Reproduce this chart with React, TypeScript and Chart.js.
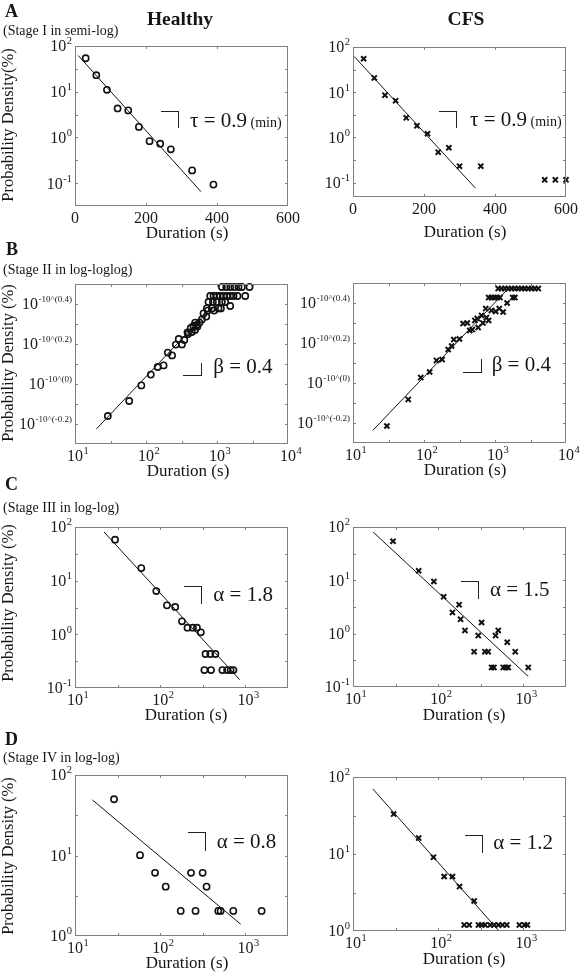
import React, { useEffect, useRef } from "react";
import { Chart, registerables } from "chart.js";
Chart.register(...registerables);

const W = 581;
const H = 975;
const FONT = '"Liberation Serif", "Times New Roman", serif';

// ---------- Panel A: Stage I (semi-log) ----------
const aHealthyX = [30, 60, 90, 120, 150, 180, 210, 240, 270, 330, 390];
const aHealthyY = [54, 23, 11, 4.3, 3.9, 1.7, 0.83, 0.73, 0.55, 0.19, 0.093];
const aHealthyFitX = [9, 355];
const aHealthyFitY = [62, 0.065];
const aCfsX = [30, 60, 90, 120, 150, 180, 210, 240, 270, 300, 360, 540, 570, 600];
const aCfsY = [55, 20.7, 8.6, 6.5, 2.7, 1.8, 1.2, 0.47, 0.59, 0.23, 0.23, 0.115, 0.115, 0.115];
const aCfsFitX = [3, 345];
const aCfsFitY = [62, 0.075];

// ---------- Panel B: Stage II (log-loglog) ----------
const bHealthyX = [29, 58, 86, 117, 146, 177, 203, 233, 263, 289, 321, 347, 384, 391, 428, 442, 466, 490, 493, 520, 530, 567, 612, 646, 707, 719, 740, 759, 802, 847, 875, 893, 912, 995, 995, 1050, 1109, 1135, 1172, 1172, 1236, 1306, 1349, 1380, 1535, 1535, 1538, 1710, 1750, 1946, 2009, 2244, 2500, 2871];
const bHealthyY = [-0.16, -0.085, -0.007, 0.047, 0.085, 0.093, 0.157, 0.143, 0.197, 0.225, 0.198, 0.22, 0.2585, 0.25, 0.28, 0.26, 0.29, 0.27, 0.307, 0.295, 0.287, 0.307, 0.323, 0.353, 0.337, 0.378, 0.367, 0.41, 0.44, 0.378, 0.41, 0.44, 0.367, 0.44, 0.41, 0.378, 0.44, 0.378, 0.41, 0.485, 0.44, 0.41, 0.485, 0.44, 0.44, 0.39, 0.485, 0.44, 0.485, 0.44, 0.485, 0.485, 0.44, 0.485];
const bHealthyFitX = [20, 850];
const bHealthyFitY = [-0.225, 0.385];
const bCfsX = [30, 60, 90, 120, 150, 180, 219, 245, 263, 316, 355, 407, 441, 479, 520, 562, 579, 646, 676, 741, 759, 813, 891, 1023, 1148, 1303, 1479, 813, 891, 977, 1072, 1175, 1778, 1905, 1109, 1236, 1377, 1535, 1710, 1905, 2123, 2366, 2636, 2938, 3273, 3648, 4074];
const bCfsY = [-0.215, -0.082, 0.027, 0.055, 0.113, 0.117, 0.167, 0.185, 0.217, 0.22, 0.297, 0.3, 0.263, 0.267, 0.313, 0.322, 0.277, 0.338, 0.3, 0.372, 0.327, 0.313, 0.363, 0.358, 0.372, 0.355, 0.4, 0.427, 0.427, 0.427, 0.427, 0.427, 0.427, 0.427, 0.472, 0.472, 0.472, 0.472, 0.472, 0.472, 0.472, 0.472, 0.472, 0.472, 0.472, 0.472, 0.472];
const bCfsFitX = [19, 1455];
const bCfsFitY = [-0.237, 0.463];

// ---------- Panel C: Stage III (log-log) ----------
const cHealthyX = [29.5, 60, 90, 120, 150, 180, 209, 242, 270, 300, 340, 387, 444, 330, 395, 537, 610, 671, 724];
const cHealthyY = [58, 17.2, 6.4, 3.47, 3.24, 1.75, 1.33, 1.33, 1.33, 1.09, 0.43, 0.43, 0.43, 0.216, 0.216, 0.216, 0.216, 0.216, 0.216];
const cHealthyFitX = [21.9, 857];
const cHealthyFitY = [80.7, 0.143];
const cCfsX = [29.5, 59, 89, 116, 147, 176, 183, 206, 264, 295, 323, 353, 386, 423, 451, 471, 507, 580, 623, 664, 646, 802, 1140];
const cCfsY = [54, 15.1, 9.5, 4.9, 2.5, 3.5, 1.86, 1.15, 0.46, 0.92, 1.62, 0.46, 0.46, 0.233, 0.233, 0.92, 1.15, 0.233, 0.233, 0.233, 0.69, 0.46, 0.233];
const cCfsFitX = [17.2, 1140];
const cCfsFitY = [80.7, 0.158];

// ---------- Panel D: Stage IV (log-log) ----------
const dHealthyX = [28.7, 58, 87, 116, 174, 230, 260, 315, 350, 480, 512, 721, 1550];
const dHealthyY = [50, 10.1, 6.1, 4.1, 2.05, 6.1, 2.05, 6.1, 4.1, 2.05, 2.05, 2.05, 2.05];
const dHealthyFitX = [16, 881];
const dHealthyFitY = [49, 1.4];
const dCfsX = [30, 59, 88, 117.5, 147, 178, 264, 202, 231, 297, 325, 355, 407, 453, 509, 567, 638, 897, 1028, 1114];
const dCfsY = [33, 16.1, 9.1, 5.1, 5.1, 3.77, 2.45, 1.2, 1.2, 1.2, 1.2, 1.2, 1.2, 1.2, 1.2, 1.2, 1.2, 1.2, 1.2, 1.2];
const dCfsFitX = [17.1, 509];
const dCfsFitY = [69.8, 1.02];

// ---------- Tick values and labels ----------
const aXTickValues = [0, 200, 400, 600];
const aXTickLabels = ["0", "200", "400", "600"];
const aYExps = [-1, 0, 1, 2];
const aYMinorExps = [-0.5, 0.5, 1.5];
const bXExps = [1, 2, 3, 4];
const bXMinorExps = [1.5, 2.5, 3.5];
const bYTickValues = [-0.2, 0, 0.2, 0.4];
const bYTickExps = ["-10^(-0.2)", "-10^(0)", "-10^(0.2)", "-10^(0.4)"];
const bYMinorValues = [-0.1, 0.1, 0.3];
const cdXExps = [1, 2, 3];
const cdXMinorExps = [1.5, 2.5];
const cYExps = [-1, 0, 1, 2];
const cYMinorExps = [-0.5, 0.5, 1.5];
const dYExps = [0, 1, 2];
const dYMinorExps = [0.5, 1.5];

type Tick = { v: number; base?: string; exp?: string };
type Pt = { x: number; y: number };

const zip = (xs: number[], ys: number[]): Pt[] => xs.map((x, i) => ({ x, y: ys[i] }));
const logTicks = (exps: number[], minor: number[]): Tick[] => [
  ...exps.map((e) => ({ v: Math.pow(10, e), base: "10", exp: String(e) })),
  ...minor.map((e) => ({ v: Math.pow(10, e) })),
];

type PanelCfg = {
  id: string;
  box: [number, number, number, number];
  xType: "linear" | "logarithmic";
  xMin: number;
  xMax: number;
  yType: "linear" | "logarithmic";
  yMin: number;
  yMax: number;
  points: Pt[];
  fit: Pt[];
  marker: "circle" | "crossRot";
  xTicks: Tick[];
  yTicks: Tick[];
  yExpSize?: number;
};

const aXTicks: Tick[] = aXTickValues.map((v, i) => ({ v, base: aXTickLabels[i] }));
const bYTicks: Tick[] = [
  ...bYTickValues.map((v, i) => ({ v, base: "10", exp: bYTickExps[i] })),
  ...bYMinorValues.map((v) => ({ v })),
];

const panels: PanelCfg[] = [
  {
    id: "aH", box: [75, 46, 288, 206], xType: "linear", xMin: 0, xMax: 600,
    yType: "logarithmic", yMin: Math.pow(10, -1.5), yMax: 100,
    points: zip(aHealthyX, aHealthyY), fit: zip(aHealthyFitX, aHealthyFitY), marker: "circle",
    xTicks: aXTicks, yTicks: logTicks(aYExps, aYMinorExps),
  },
  {
    id: "aC", box: [353, 47, 566, 197], xType: "linear", xMin: 0, xMax: 600,
    yType: "logarithmic", yMin: Math.pow(10, -1.32), yMax: 100,
    points: zip(aCfsX, aCfsY), fit: zip(aCfsFitX, aCfsFitY), marker: "crossRot",
    xTicks: aXTicks, yTicks: logTicks(aYExps, aYMinorExps),
  },
  {
    id: "bH", box: [75, 284, 288, 444], xType: "logarithmic", xMin: 10, xMax: 10000,
    yType: "linear", yMin: -0.3, yMax: 0.5,
    points: zip(bHealthyX, bHealthyY), fit: zip(bHealthyFitX, bHealthyFitY), marker: "circle",
    xTicks: logTicks(bXExps, bXMinorExps), yTicks: bYTicks, yExpSize: 9,
  },
  {
    id: "bC", box: [353, 283, 566, 443], xType: "logarithmic", xMin: 10, xMax: 10000,
    yType: "linear", yMin: -0.3, yMax: 0.5,
    points: zip(bCfsX, bCfsY), fit: zip(bCfsFitX, bCfsFitY), marker: "crossRot",
    xTicks: logTicks(bXExps, bXMinorExps), yTicks: bYTicks, yExpSize: 9,
  },
  {
    id: "cH", box: [75, 527, 288, 688], xType: "logarithmic", xMin: 10, xMax: Math.pow(10, 3.5),
    yType: "logarithmic", yMin: 0.1, yMax: 100,
    points: zip(cHealthyX, cHealthyY), fit: zip(cHealthyFitX, cHealthyFitY), marker: "circle",
    xTicks: logTicks(cdXExps, cdXMinorExps), yTicks: logTicks(cYExps, cYMinorExps),
  },
  {
    id: "cC", box: [353, 527, 566, 687], xType: "logarithmic", xMin: 10, xMax: Math.pow(10, 3.5),
    yType: "logarithmic", yMin: 0.1, yMax: 100,
    points: zip(cCfsX, cCfsY), fit: zip(cCfsFitX, cCfsFitY), marker: "crossRot",
    xTicks: logTicks(cdXExps, cdXMinorExps), yTicks: logTicks(cYExps, cYMinorExps),
  },
  {
    id: "dH", box: [75, 775, 288, 936], xType: "logarithmic", xMin: 10, xMax: Math.pow(10, 3.5),
    yType: "logarithmic", yMin: 1, yMax: 100,
    points: zip(dHealthyX, dHealthyY), fit: zip(dHealthyFitX, dHealthyFitY), marker: "circle",
    xTicks: logTicks(cdXExps, cdXMinorExps), yTicks: logTicks(dYExps, dYMinorExps),
  },
  {
    id: "dC", box: [353, 777, 566, 931], xType: "logarithmic", xMin: 10, xMax: Math.pow(10, 3.5),
    yType: "logarithmic", yMin: 1, yMax: 100,
    points: zip(dCfsX, dCfsY), fit: zip(dCfsFitX, dCfsFitY), marker: "crossRot",
    xTicks: logTicks(cdXExps, cdXMinorExps), yTicks: logTicks(dYExps, dYMinorExps),
  },
];

const TICK_FS = 16;
const EXP_FS = 10.5;

function makeFramePlugin(p: PanelCfg) {
  return {
    id: "frame_" + p.id,
    afterDraw(chart: any) {
      const { ctx, chartArea: a } = chart;
      const xs = chart.scales.x;
      const ys = chart.scales.y;
      ctx.save();
      ctx.strokeStyle = "#808080";
      ctx.lineWidth = 1;
      ctx.strokeRect(a.left + 0.5, a.top + 0.5, a.right - a.left - 1, a.bottom - a.top - 1);
      const TL = 3;
      ctx.beginPath();
      for (const t of p.xTicks) {
        const px = Math.round(xs.getPixelForValue(t.v)) + 0.5;
        if (px <= a.left + 1 || px >= a.right - 1) continue;
        ctx.moveTo(px, a.bottom);
        ctx.lineTo(px, a.bottom - TL);
        ctx.moveTo(px, a.top);
        ctx.lineTo(px, a.top + TL);
      }
      for (const t of p.yTicks) {
        const py = Math.round(ys.getPixelForValue(t.v)) + 0.5;
        if (py <= a.top + 1 || py >= a.bottom - 1) continue;
        ctx.moveTo(a.left, py);
        ctx.lineTo(a.left + TL, py);
        ctx.moveTo(a.right, py);
        ctx.lineTo(a.right - TL, py);
      }
      ctx.stroke();

      ctx.fillStyle = "#1a1a1a";
      ctx.textBaseline = "alphabetic";
      const expFs = p.yExpSize || EXP_FS;
      for (const t of p.xTicks) {
        if (!t.base) continue;
        const px = xs.getPixelForValue(t.v);
        const by = a.bottom + 17;
        ctx.font = `${TICK_FS}px ${FONT}`;
        const bw = ctx.measureText(t.base).width;
        ctx.textAlign = "left";
        ctx.fillText(t.base, px - bw / 2, by);
        if (t.exp) {
          ctx.font = `${EXP_FS}px ${FONT}`;
          ctx.fillText(t.exp, px + bw / 2 + 0.5, by - 7);
        }
      }
      for (const t of p.yTicks) {
        if (!t.base) continue;
        const py = ys.getPixelForValue(t.v);
        const by = py + 0.34 * TICK_FS;
        ctx.font = `${TICK_FS}px ${FONT}`;
        const bw = ctx.measureText(t.base).width;
        let ew = 0;
        if (t.exp) {
          ctx.font = `${expFs}px ${FONT}`;
          ew = ctx.measureText(t.exp).width + 0.5;
        }
        const start = a.left - 3 - bw - ew;
        ctx.textAlign = "left";
        ctx.font = `${TICK_FS}px ${FONT}`;
        ctx.fillText(t.base, start, by);
        if (t.exp) {
          ctx.font = `${expFs}px ${FONT}`;
          ctx.fillText(t.exp, start + bw + 0.5, by - 7);
        }
      }
      ctx.restore();
    },
  };
}

function Plot({ p }: { p: PanelCfg }) {
  const ref = useRef<HTMLCanvasElement>(null);
  useEffect(() => {
    const [l, t, r, b] = p.box;
    const isCross = p.marker === "crossRot";
    const chart = new Chart(ref.current as HTMLCanvasElement, {
      type: "scatter",
      data: {
        datasets: [
          {
            data: p.points,
            pointStyle: p.marker,
            pointRadius: isCross ? 3.6 : 3.1,
            pointBorderWidth: isCross ? 2 : 1.6,
            borderColor: "#111",
            pointBorderColor: "#111",
            backgroundColor: "rgba(0,0,0,0)",
            pointBackgroundColor: "rgba(0,0,0,0)",
            showLine: false,
            clip: false,
          } as any,
          {
            data: p.fit,
            showLine: true,
            pointRadius: 0,
            borderColor: "#111",
            borderWidth: 1,
            fill: false,
            clip: false,
          } as any,
        ],
      },
      options: {
        responsive: false,
        animation: false,
        events: [],
        layout: { padding: { left: l, top: t, right: W - r, bottom: H - b } },
        scales: {
          x: { type: p.xType, min: p.xMin, max: p.xMax, display: false },
          y: { type: p.yType, min: p.yMin, max: p.yMax, display: false },
        },
        plugins: { legend: { display: false }, tooltip: { enabled: false } },
      } as any,
      plugins: [makeFramePlugin(p)],
    });
    return () => chart.destroy();
  }, []);
  return (
    <canvas
      ref={ref}
      width={W}
      height={H}
      style={{ position: "absolute", left: 0, top: 0, width: W, height: H }}
    />
  );
}

function Txt(props: { x: number; y: number; size: number; bold?: boolean; center?: boolean; children: any }) {
  const { x, y, size, bold, center, children } = props;
  return (
    <div
      style={{
        position: "absolute",
        left: x,
        top: y - 0.8375 * size,
        fontSize: size,
        lineHeight: 1,
        fontWeight: bold ? 700 : 400,
        whiteSpace: "nowrap",
        transform: center ? "translateX(-50%)" : undefined,
      }}
    >
      {children}
    </div>
  );
}

function VTxt(props: { x: number; y: number; size: number; children: any }) {
  return (
    <div
      style={{
        position: "absolute",
        left: props.x,
        top: props.y,
        fontSize: props.size,
        lineHeight: 1,
        whiteSpace: "nowrap",
        transform: "translate(-50%,-50%) rotate(-90deg)",
      }}
    >
      {props.children}
    </div>
  );
}

function Corner(props: { x1: number; y1: number; x2: number; y2: number; kind: "tr" | "br" }) {
  const { x1, y1, x2, y2, kind } = props;
  const line = "1.5px solid #222";
  return (
    <div
      style={{
        position: "absolute",
        left: x1,
        top: y1,
        width: x2 - x1,
        height: y2 - y1,
        boxSizing: "border-box",
        borderRight: line,
        borderTop: kind === "tr" ? line : undefined,
        borderBottom: kind === "br" ? line : undefined,
      }}
    />
  );
}

export default function App() {
  return (
    <div
      style={{
        position: "absolute",
        left: 0,
        top: 0,
        width: W,
        height: H,
        background: "#fff",
        fontFamily: FONT,
        color: "#151515",
        overflow: "hidden",
      }}
    >
      {panels.map((p) => (
        <Plot key={p.id} p={p} />
      ))}

      <Txt x={5} y={17} size={18} bold>A</Txt>
      <Txt x={6} y={255} size={18} bold>B</Txt>
      <Txt x={5} y={490} size={18} bold>C</Txt>
      <Txt x={5} y={745} size={18} bold>D</Txt>

      <Txt x={180} y={25} size={19.5} bold center>Healthy</Txt>
      <Txt x={466} y={25} size={19.5} bold center>CFS</Txt>

      <Txt x={3} y={35.8} size={14}>(Stage I in semi-log)</Txt>
      <Txt x={3} y={274.5} size={14}>(Stage II in log-loglog)</Txt>
      <Txt x={3} y={512.5} size={14}>(Stage III in log-log)</Txt>
      <Txt x={3} y={762.5} size={14}>(Stage IV in log-log)</Txt>

      <VTxt x={7.7} y={125} size={16.5}>Probability Density(%)</VTxt>
      <VTxt x={7.7} y={363} size={16.5}>Probability Density (%)</VTxt>
      <VTxt x={7.7} y={603} size={16.5}>Probability Density (%)</VTxt>
      <VTxt x={7.7} y={856} size={16.5}>Probability Density (%)</VTxt>

      <Txt x={187} y={238} size={17} center>Duration (s)</Txt>
      <Txt x={465} y={237} size={17} center>Duration (s)</Txt>
      <Txt x={188} y={476} size={17} center>Duration (s)</Txt>
      <Txt x={465} y={475} size={17} center>Duration (s)</Txt>
      <Txt x={186} y={720.5} size={17} center>Duration (s)</Txt>
      <Txt x={464} y={720} size={17} center>Duration (s)</Txt>
      <Txt x={187} y={968} size={17} center>Duration (s)</Txt>
      <Txt x={464} y={964} size={17} center>Duration (s)</Txt>

      <Corner x1={161} y1={110.7} x2={179} y2={128.3} kind="tr" />
      <Txt x={190} y={127.3} size={21}>
        τ = 0.9<span style={{ fontSize: 14 }}> (min)</span>
      </Txt>
      <Corner x1={439.3} y1={110.7} x2={457.3} y2={128.3} kind="tr" />
      <Txt x={470} y={126.7} size={21}>
        τ = 0.9<span style={{ fontSize: 14 }}> (min)</span>
      </Txt>

      <Corner x1={183.3} y1={363.3} x2={201.7} y2={376} kind="br" />
      <Txt x={213.3} y={373.3} size={21}>β = 0.4</Txt>
      <Corner x1={463.3} y1={359} x2={481.7} y2={373.3} kind="br" />
      <Txt x={491.7} y={371.7} size={21}>β = 0.4</Txt>

      <Corner x1={184} y1={586} x2={202.3} y2={604} kind="tr" />
      <Txt x={213.3} y={601.7} size={21}>α = 1.8</Txt>
      <Corner x1={461} y1={581} x2={479.3} y2={599} kind="tr" />
      <Txt x={490} y={596.7} size={21}>α = 1.5</Txt>

      <Corner x1={188.3} y1={832.3} x2={205.7} y2={850.7} kind="tr" />
      <Txt x={216.7} y={848.3} size={21}>α = 0.8</Txt>
      <Corner x1={465} y1={835} x2={483.3} y2={852.7} kind="tr" />
      <Txt x={493.3} y={850} size={21}>α = 1.2</Txt>
    </div>
  );
}
